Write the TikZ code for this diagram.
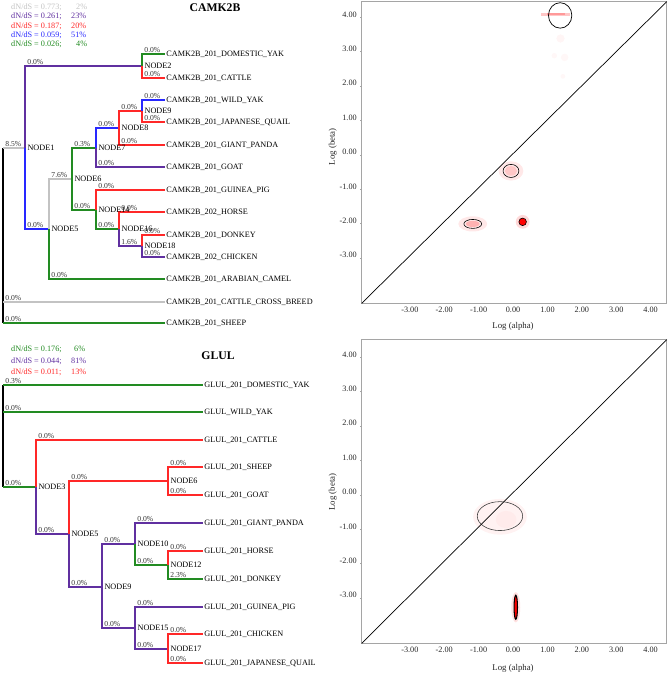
\documentclass[tikz,border=0pt]{standalone}
\usepackage{fontspec}
\setmainfont{Liberation Serif}
\definecolor{brgray}{RGB}{195,195,195}
\definecolor{brpurple}{RGB}{96,48,160}
\definecolor{brred}{RGB}{255,40,40}
\definecolor{brblue}{RGB}{40,40,255}
\definecolor{brgreen}{RGB}{34,139,34}
\definecolor{axgray}{RGB}{165,165,165}
\begin{document}
\begin{tikzpicture}[x=0.03cm,y=-0.03cm,
  br/.style={line width=1pt},
  rootln/.style={line width=1.3pt,black},
  leaf/.style={anchor=west,inner sep=1pt,font=\fontsize{7}{8}\selectfont},
  nname/.style={anchor=west,inner sep=1pt,xshift=1pt,font=\fontsize{7}{8}\selectfont},
  pct/.style={pos=0.5,anchor=south west,inner sep=0.6pt,xshift=1pt,text=black!80,font=\fontsize{6.5}{7}\selectfont},
  legend/.style={anchor=west,inner sep=0pt,font=\fontsize{7}{8}\selectfont},
  title/.style={font=\bfseries\fontsize{10}{12}\selectfont},
  tick/.style={inner sep=1pt,text=black!85,font=\fontsize{7}{8}\selectfont},
  axlab/.style={inner sep=0pt,text=black!85,font=\fontsize{7.5}{9}\selectfont}]
\useasboundingbox (0,0) rectangle (669,675);

% CAMK2B tree
\node[legend,brgray] (la1) at (11,7) {dN/dS = 0.773;};
\node[legend,brgray] (lb1) at (76,7) {2\%};
\node[legend,brpurple] (la2) at (11,16) {dN/dS = 0.261;};
\node[legend,brpurple] (lb2) at (71,16) {23\%};
\node[legend,brred] (la3) at (11,26) {dN/dS = 0.187;};
\node[legend,brred] (lb3) at (71,26) {20\%};
\node[legend,brblue] (la4) at (11,35) {dN/dS = 0.059;};
\node[legend,brblue] (lb4) at (71,35) {51\%};
\node[legend,brgreen] (la5) at (11,44) {dN/dS = 0.026;};
\node[legend,brgreen] (lb5) at (76,44) {4\%};
\node[title] (t1) at (215,8) {CAMK2B};

\coordinate (c0) at (3,148);
\coordinate (c1) at (25,148);
\coordinate (c2) at (142,66);
\coordinate (c5) at (49,229);
\coordinate (c6) at (72,179);
\coordinate (c7) at (96,148);
\coordinate (c8) at (119,128);
\coordinate (c9) at (142,111);
\coordinate (c14) at (96,210);
\coordinate (c16) at (119,229);
\coordinate (c18) at (142,246);

\node[leaf] (cdyak) at (165,54) {CAMK2B\_201\_DOMESTIC\_YAK};
\node[leaf] (ccatt) at (165,78) {CAMK2B\_201\_CATTLE};
\node[leaf] (cwyak) at (165,100) {CAMK2B\_201\_WILD\_YAK};
\node[leaf] (cquail) at (165,122) {CAMK2B\_201\_JAPANESE\_QUAIL};
\node[leaf] (cpanda) at (165,145) {CAMK2B\_201\_GIANT\_PANDA};
\node[leaf] (cgoat) at (165,167) {CAMK2B\_201\_GOAT};
\node[leaf] (cpig) at (165,190) {CAMK2B\_201\_GUINEA\_PIG};
\node[leaf] (chorse) at (165,212) {CAMK2B\_202\_HORSE};
\node[leaf] (cdonk) at (165,235) {CAMK2B\_201\_DONKEY};
\node[leaf] (cchick) at (165,257) {CAMK2B\_202\_CHICKEN};
\node[leaf] (ccamel) at (165,279) {CAMK2B\_201\_ARABIAN\_CAMEL};
\node[leaf] (ccross) at (165,302) {CAMK2B\_201\_CATTLE\_CROSS\_BREED};
\node[leaf] (csheep) at (165,323) {CAMK2B\_201\_SHEEP};

\draw[rootln] (c0) -- (c0 |- csheep.west);
\draw[br,brgray] (c0) -- node[pct,pos=0] (cp1) {8.5\%} (c1);
\draw[br,brgray] (c0 |- ccross.west) -- node[pct,pos=0] (cp2) {0.0\%} (ccross.west);
\draw[br,brgreen] (c0 |- csheep.west) -- node[pct,pos=0] (cp3) {0.0\%} (csheep.west);
\draw[br,brpurple] (c1) |- node[pct] (cp4) {0.0\%} (c2);
\draw[br,brblue] (c1) |- node[pct] (cp5) {0.0\%} (c5);
\draw[br,brgreen] (c2) |- node[pct] (cp6) {0.0\%} (cdyak.west);
\draw[br,brred] (c2) |- node[pct] (cp7) {0.0\%} (ccatt.west);
\draw[br,brgray] (c5) |- node[pct] (cp8) {7.6\%} (c6);
\draw[br,brgreen] (c5) |- node[pct] (cp9) {0.0\%} (ccamel.west);
\draw[br,brgreen] (c6) |- node[pct] (cp10) {0.3\%} (c7);
\draw[br,brgreen] (c6) |- node[pct] (cp11) {0.0\%} (c14);
\draw[br,brblue] (c7) |- node[pct] (cp12) {0.0\%} (c8);
\draw[br,brpurple] (c7) |- node[pct] (cp13) {0.0\%} (cgoat.west);
\draw[br,brred] (c8) |- node[pct] (cp14) {0.0\%} (c9);
\draw[br,brred] (c8) |- node[pct] (cp15) {0.0\%} (cpanda.west);
\draw[br,brblue] (c9) |- node[pct] (cp16) {0.0\%} (cwyak.west);
\draw[br,brred] (c9) |- node[pct] (cp17) {0.0\%} (cquail.west);
\draw[br,brred] (c14) |- node[pct] (cp18) {0.0\%} (cpig.west);
\draw[br,brgreen] (c14) |- node[pct] (cp19) {0.0\%} (c16);
\draw[br,brred] (c16) |- node[pct] (cp20) {0.0\%} (chorse.west);
\draw[br,brpurple] (c16) |- node[pct] (cp21) {1.6\%} (c18);
\draw[br,brred] (c18) |- node[pct] (cp22) {0.0\%} (cdonk.west);
\draw[br,brpurple] (c18) |- node[pct] (cp23) {0.0\%} (cchick.west);

\node[nname] (cn1) at (c1) {NODE1};
\node[nname] (cn2) at (c2) {NODE2};
\node[nname] (cn5) at (c5) {NODE5};
\node[nname] (cn6) at (c6) {NODE6};
\node[nname] (cn7) at (c7) {NODE7};
\node[nname] (cn8) at (c8) {NODE8};
\node[nname] (cn9) at (c9) {NODE9};
\node[nname] (cn14) at (c14) {NODE14};
\node[nname] (cn16) at (c16) {NODE16};
\node[nname] (cn18) at (c18) {NODE18};

% GLUL tree
\node[legend,brgreen] (ga1) at (11,349) {dN/dS = 0.176;};
\node[legend,brgreen] (gb1) at (74,349) {6\%};
\node[legend,brpurple] (ga2) at (11,361) {dN/dS = 0.044;};
\node[legend,brpurple] (gb2) at (71,361) {81\%};
\node[legend,brred] (ga3) at (11,372) {dN/dS = 0.011;};
\node[legend,brred] (gb3) at (71,372) {13\%};
\node[title] (t2) at (218,356) {GLUL};

\coordinate (g0) at (3,385);
\coordinate (g3) at (36,487);
\coordinate (g5) at (69,534);
\coordinate (g6) at (168,481);
\coordinate (g9) at (102,587);
\coordinate (g10) at (135,544);
\coordinate (g12) at (168,565);
\coordinate (g15) at (135,628);
\coordinate (g17) at (168,649);

\node[leaf] (gdyak) at (203,385) {GLUL\_201\_DOMESTIC\_YAK};
\node[leaf] (gwyak) at (203,412) {GLUL\_WILD\_YAK};
\node[leaf] (gcatt) at (203,440) {GLUL\_201\_CATTLE};
\node[leaf] (gsheep) at (203,467) {GLUL\_201\_SHEEP};
\node[leaf] (ggoat) at (203,495) {GLUL\_201\_GOAT};
\node[leaf] (gpanda) at (203,523) {GLUL\_201\_GIANT\_PANDA};
\node[leaf] (ghorse) at (203,551) {GLUL\_201\_HORSE};
\node[leaf] (gdonk) at (203,579) {GLUL\_201\_DONKEY};
\node[leaf] (gpig) at (203,607) {GLUL\_201\_GUINEA\_PIG};
\node[leaf] (gchick) at (203,634) {GLUL\_201\_CHICKEN};
\node[leaf] (gquail) at (203,663) {GLUL\_201\_JAPANESE\_QUAIL};

\draw[rootln] (g0) -- (g0 |- g3);
\draw[br,brgreen] (g0) -- node[pct,pos=0] (gp1) {0.3\%} (gdyak.west);
\draw[br,brgreen] (g0 |- gwyak.west) -- node[pct,pos=0] (gp2) {0.0\%} (gwyak.west);
\draw[br,brgreen] (g0 |- g3) -- node[pct,pos=0] (gp3) {0.0\%} (g3);
\draw[br,brred] (g3) |- node[pct] (gp4) {0.0\%} (gcatt.west);
\draw[br,brpurple] (g3) |- node[pct] (gp5) {0.0\%} (g5);
\draw[br,brred] (g5) |- node[pct] (gp6) {0.0\%} (g6);
\draw[br,brpurple] (g5) |- node[pct] (gp7) {0.0\%} (g9);
\draw[br,brred] (g6) |- node[pct] (gp8) {0.0\%} (gsheep.west);
\draw[br,brred] (g6) |- node[pct] (gp9) {0.0\%} (ggoat.west);
\draw[br,brpurple] (g9) |- node[pct] (gp10) {0.0\%} (g10);
\draw[br,brpurple] (g9) |- node[pct] (gp11) {0.0\%} (g15);
\draw[br,brpurple] (g10) |- node[pct] (gp12) {0.0\%} (gpanda.west);
\draw[br,brgreen] (g10) |- node[pct] (gp13) {0.0\%} (g12);
\draw[br,brred] (g12) |- node[pct] (gp14) {0.0\%} (ghorse.west);
\draw[br,brgreen] (g12) |- node[pct] (gp15) {2.3\%} (gdonk.west);
\draw[br,brpurple] (g15) |- node[pct] (gp16) {0.0\%} (gpig.west);
\draw[br,brpurple] (g15) |- node[pct] (gp17) {0.0\%} (g17);
\draw[br,brred] (g17) |- node[pct] (gp18) {0.0\%} (gchick.west);
\draw[br,brred] (g17) |- node[pct] (gp19) {0.0\%} (gquail.west);

\node[nname] (gn3) at (g3) {NODE3};
\node[nname] (gn5) at (g5) {NODE5};
\node[nname] (gn6) at (g6) {NODE6};
\node[nname] (gn9) at (g9) {NODE9};
\node[nname] (gn10) at (g10) {NODE10};
\node[nname] (gn12) at (g12) {NODE12};
\node[nname] (gn15) at (g15) {NODE15};
\node[nname] (gn17) at (g17) {NODE17};

% CAMK2B plot
\begin{scope}[shift={(15.39cm,-4.56cm)},x=1.032cm,y=1.032cm]
\fill[red!22] (0.8,3.96) rectangle (1.66,4.04);
\fill[red!40] (1.0,3.97) rectangle (1.5,4.03);
\fill[red!4] (1.38,3.3) circle (0.12);
\fill[red!3] (1.5,2.75) circle (0.11);
\fill[red!3] (1.2,2.8) circle (0.08);
\fill[red!3] (1.45,2.2) circle (0.07);
\draw[line width=0.6pt] (1.37,3.97) ellipse (0.34 and 0.37);
\fill[red!9] (-0.06,-0.55) ellipse (0.36 and 0.28);
\fill[red!22] (-0.06,-0.55) ellipse (0.18 and 0.14);
\draw[line width=0.5pt] (-0.06,-0.55) ellipse (0.23 and 0.19);
\fill[red!9] (-1.17,-2.09) ellipse (0.42 and 0.22);
\fill[red!30] (-1.17,-2.09) ellipse (0.2 and 0.09);
\draw[line width=0.5pt] (-1.17,-2.09) ellipse (0.26 and 0.13);
\fill[red!15] (0.28,-2.03) circle (0.2);
\filldraw[fill=red,draw=black,line width=0.5pt] (0.28,-2.03) circle (0.11);
\draw[axgray,line width=0.8pt] (-4.4,-4.4) rectangle (4.47,4.37);
\draw[line width=0.6pt] (-4.4,-4.4) -- (4.47,4.37);
\foreach \v in {-3,...,4} {
  \node[tick,anchor=east,xshift=-3pt] (ay\v) at (-4.4,\v) {\v.00};
  \draw[axgray] (-4.4,\v-0.08) -- ++(-0.05,0);
  \node[tick,anchor=north,yshift=-2pt] (ax\v) at (\v,-4.4) {\v.00};
}
\node[axlab] (axa) at (0,-5.06) {Log (alpha)};
\node[axlab,rotate=90] (axb) at (-5.24,0.15) {Log (beta)};
\end{scope}

% GLUL plot
\begin{scope}[shift={(15.39cm,-14.76cm)},x=1.032cm,y=1.032cm]
\fill[red!5] (-0.38,-0.72) ellipse (0.78 and 0.52);
\fill[red!8] (-0.2,-0.8) ellipse (0.3 and 0.25);
\draw[black!75,line width=0.5pt] (-0.38,-0.7) ellipse (0.66 and 0.42);
\fill[red!12] (0.08,-3.35) ellipse (0.13 and 0.44);
\filldraw[fill=red,draw=black,line width=0.9pt] (0.08,-3.35) ellipse (0.05 and 0.35);
\draw[axgray,line width=0.8pt] (-4.4,-4.4) rectangle (4.47,4.43);
\draw[line width=0.6pt] (-4.4,-4.4) -- (4.47,4.43);
\foreach \v in {-3,...,4} {
  \node[tick,anchor=east,xshift=-3pt] (by\v) at (-4.4,\v) {\v.00};
  \draw[axgray] (-4.4,\v-0.08) -- ++(-0.05,0);
  \node[tick,anchor=north,yshift=-2pt] (bx\v) at (\v,-4.4) {\v.00};
}
\node[axlab] (bxa) at (0,-5.12) {Log (alpha)};
\node[axlab,rotate=90] (bxb) at (-5.24,0.0) {Log (beta)};
\end{scope}
\end{tikzpicture}
\end{document}
